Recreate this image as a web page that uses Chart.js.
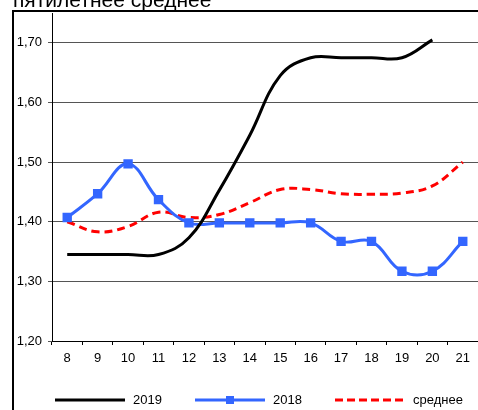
<!DOCTYPE html>
<html><head><meta charset="utf-8">
<script src="https://cdn.jsdelivr.net/npm/chart.js@4"></script>
<style>html,body{margin:0;padding:0;background:#fff;}#wrap{width:478px;height:410px;position:relative;}</style>
</head><body><div id="wrap"><canvas id="c" width="478" height="410"></canvas></div>
<script>
const categories = ['8','9','10','11','12','13','14','15','16','17','18','19','20','21'];
const s2019 = [1.345,1.345,1.345,1.345,1.373,1.453,1.545,1.645,1.675,1.675,1.675,1.675,1.705,null];
const s2018 = [1.407,1.447,1.497,1.437,1.398,1.398,1.398,1.398,1.398,1.367,1.367,1.317,1.317,1.367];
const sAvg  = [1.400,1.383,1.392,1.416,1.407,1.412,1.432,1.454,1.454,1.447,1.446,1.448,1.460,1.500];
const yTicks = [1.2,1.3,1.4,1.5,1.6,1.7];
const titleText = 'пятилетнее среднее';
const legendLabels = ['2019','2018','среднее'];
const FONT = '"Liberation Sans", Arial, sans-serif';

const extras = {
  id:'extras',
  afterDraw(chart){
    const ctx = chart.ctx;
    ctx.save();
    ctx.fillStyle = '#000';
    ctx.font = '21px ' + FONT;
    ctx.textBaseline = 'alphabetic';
    ctx.textAlign = 'left';
    ctx.fillText(titleText, 13, 7);
    ctx.strokeStyle = '#000';
    ctx.lineWidth = 2;
    ctx.beginPath();
    ctx.moveTo(13, 410); ctx.lineTo(13, 11); ctx.lineTo(478, 11);
    ctx.stroke();
    const ly = 400;
    ctx.font = '13px ' + FONT;
    ctx.textBaseline = 'middle';
    const items = [
      {x:55, color:'#000', dash:[], marker:false},
      {x:195, color:'#3366ff', dash:[], marker:true},
      {x:335, color:'#ff0000', dash:[8,4], marker:false}
    ];
    items.forEach((it,i)=>{
      ctx.strokeStyle = it.color; ctx.lineWidth = 3; ctx.setLineDash(it.dash);
      ctx.beginPath(); ctx.moveTo(it.x, ly); ctx.lineTo(it.x+70, ly); ctx.stroke();
      ctx.setLineDash([]);
      if (it.marker){ ctx.fillStyle = it.color; ctx.fillRect(it.x+31, ly-4, 8, 8); }
      ctx.fillStyle = '#000';
      ctx.fillText(legendLabels[i], it.x+78, ly);
    });
    ctx.restore();
  }
};

new Chart(document.getElementById('c'), {
  type:'line',
  data:{
    labels: categories,
    datasets:[
      {label:legendLabels[0], data:s2019, borderColor:'#000', borderWidth:3, pointRadius:0, tension:0.4, fill:false, order:1},
      {label:legendLabels[1], data:s2018, borderColor:'#3366ff', backgroundColor:'#3366ff', borderWidth:3, pointStyle:'rect', pointRadius:4.5, tension:0.4, fill:false, order:2},
      {label:legendLabels[2], data:sAvg, borderColor:'#ff0000', borderWidth:3, borderDash:[8,5], pointRadius:0, tension:0.4, fill:false, order:3}
    ]
  },
  options:{
    responsive:false, animation:false,
    layout:{autoPadding:false, padding:{left:0,right:0,top:13,bottom:39}},
    plugins:{legend:{display:false}, tooltip:{enabled:false}},
    scales:{
      x:{
        offset:true,
        grid:{offset:true, drawOnChartArea:false, drawTicks:true, tickLength:4, color:'#000'},
        border:{color:'#000', width:1},
        ticks:{color:'#000', font:{family:FONT, size:13}, padding:6, maxRotation:0, autoSkip:false},
        afterFit(s){ s.height = 30; s.paddingRight = 0; s.paddingLeft = 0; }
      },
      y:{
        min:1.2, max:1.75,
        afterBuildTicks(s){ s.ticks = yTicks.map(v=>({value:v})); },
        grid:{color:'#555', tickLength:4, lineWidth:1},
        border:{color:'#000', width:1},
        ticks:{color:'#000', font:{family:FONT, size:13}, padding:6,
          callback:(v)=>Number(v).toFixed(2).replace('.',',')},
        afterFit(s){ s.width = 52; s.paddingTop = 0; s.paddingBottom = 0; }
      }
    }
  },
  plugins:[extras]
});
</script></body></html>
